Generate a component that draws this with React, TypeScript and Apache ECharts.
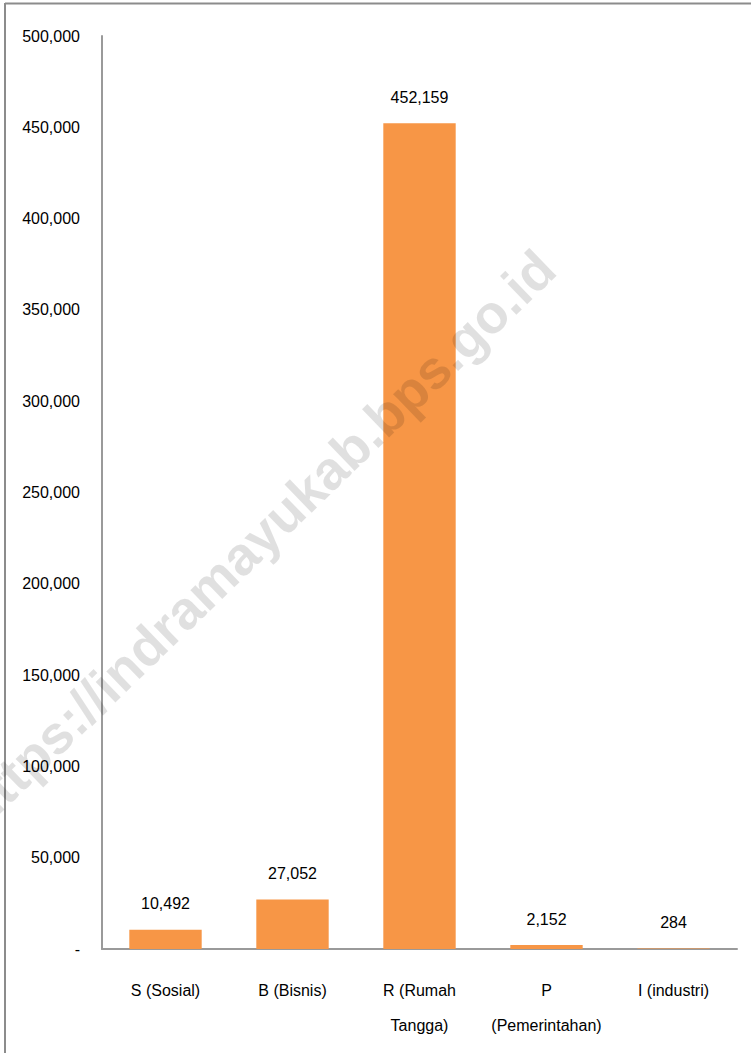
import React, { useEffect, useRef } from "react";
import * as echarts from "echarts";

const categories = ["S (Sosial)", "B (Bisnis)", "R (Rumah Tangga)", "P (Pemerintahan)", "I (industri)"];
const categoryLabels = ["S (Sosial)", "B (Bisnis)", "R (Rumah\nTangga)", "P\n(Pemerintahan)", "I (industri)"];
const values = [10492, 27052, 452159, 2152, 284];
const yTicks = [0, 50000, 100000, 150000, 200000, 250000, 300000, 350000, 400000, 450000, 500000];
const watermark = "https://indramayukab.bps.go.id";

const FONT = '"Liberation Sans", Arial, sans-serif';
const fmt = (v: number) => (v === 0 ? "-" : v.toLocaleString("en-US"));

export default function App() {
  const ref = useRef<HTMLDivElement>(null);
  useEffect(() => {
    if (!ref.current) return;
    const chart = echarts.init(ref.current, undefined, { renderer: "svg" });
    chart.setOption({
      animation: false,
      backgroundColor: "#ffffff",
      grid: { left: 102, right: 14, top: 36, bottom: 104, containLabel: false },
      xAxis: {
        type: "category",
        data: categories,
        axisLine: { lineStyle: { color: "#9a9a9a", width: 2 } },
        axisTick: { show: false },
        axisLabel: {
          formatter: (v: string) => categoryLabels[categories.indexOf(v)],
          fontFamily: FONT,
          fontSize: 16,
          color: "#000",
          lineHeight: 35,
          margin: 24,
          interval: 0,
        },
      },
      yAxis: {
        type: "value",
        min: 0,
        max: yTicks[yTicks.length - 1],
        interval: yTicks[1] - yTicks[0],
        axisLine: { show: true, lineStyle: { color: "#9a9a9a", width: 2 } },
        axisTick: { show: false },
        splitLine: { show: false },
        axisLabel: {
          formatter: (v: number) => fmt(v),
          fontFamily: FONT,
          fontSize: 16,
          color: "#000",
          margin: 22,
        },
      },
      series: [
        {
          type: "bar",
          data: values,
          barWidth: "57%",
          itemStyle: { color: "#F79646" },
          label: {
            show: true,
            position: "top",
            distance: 18,
            formatter: (p: any) => fmt(p.value),
            fontFamily: FONT,
            fontSize: 16,
            color: "#000",
          },
        },
      ],
      graphic: [
        { type: "line", shape: { x1: 5, y1: 3.5, x2: 751, y2: 3.5 }, style: { stroke: "#8c8c8c", lineWidth: 2 }, z: 100 },
        { type: "line", shape: { x1: 5, y1: 3, x2: 5, y2: 1053 }, style: { stroke: "#8c8c8c", lineWidth: 2 }, z: 100 },
        {
          type: "text",
          x: 258,
          y: 538,
          rotation: (44 * Math.PI) / 180,
          z: 100,
          style: {
            text: watermark,
            font: 'bold 54px "Liberation Sans", Arial, sans-serif',
            fill: "rgba(0,0,0,0.12)",
            align: "center",
            verticalAlign: "middle",
          },
        },
      ],
    });
    return () => chart.dispose();
  }, []);
  return <div ref={ref} style={{ position: "fixed", left: 0, top: 0, width: 751, height: 1053 }} />;
}
